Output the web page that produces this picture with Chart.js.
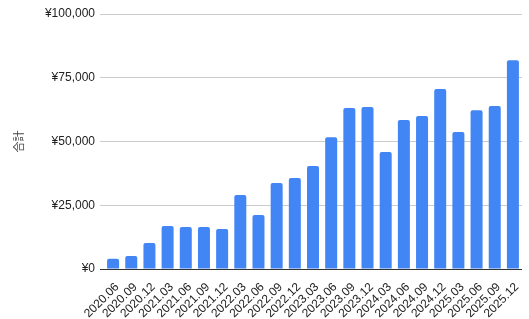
<!DOCTYPE html>
<html>
<head>
<meta charset="utf-8">
<script src="https://cdn.jsdelivr.net/npm/chart.js@4.4.1/dist/chart.umd.min.js"></script>
<style>
  html, body { margin: 0; padding: 0; background: #fff; }
  #wrap { width: 529px; height: 319px; }
</style>
</head>
<body>
<div id="wrap"><canvas id="totalChart" width="529" height="319"></canvas></div>
<script>
// Quarterly totals
const quarters = ['2020.06', '2020.09', '2020.12', '2021.03', '2021.06', '2021.09', '2021.12',
    '2022.03', '2022.06', '2022.09', '2022.12', '2023.03', '2023.06', '2023.09', '2023.12',
    '2024.03', '2024.06', '2024.09', '2024.12', '2025.03', '2025.06', '2025.09', '2025.12'];
const totals = [4000, 5100, 10200, 16900, 16500, 16500, 15700,
    29000, 21200, 33700, 35700, 40400, 51700, 63100, 63500,
    45900, 58400, 60000, 70600, 53700, 62300, 63900, 81900];
const yTicks = [0, 25000, 50000, 75000, 100000];

const yen = v => '¥' + v.toLocaleString('en-US');

const ctx = document.getElementById('totalChart').getContext('2d');
const totalChart = new Chart(ctx, {
    type: 'bar',
    data: {
        labels: quarters,
        datasets: [{
            label: '合計',
            data: totals,
            backgroundColor: '#4285F4',
            borderRadius: 2,
            borderSkipped: 'bottom',
            barPercentage: 0.66,
            categoryPercentage: 1
        }]
    },
    options: {
        responsive: false,
        animation: false,
        layout: { padding: { top: 14, right: 7, left: 0, bottom: 0 } },
        plugins: {
            legend: { display: false },
            tooltip: { enabled: false }
        },
        scales: {
            x: {
                offset: true,
                grid: { display: false },
                border: { display: false },
                ticks: {
                    color: '#222',
                    font: { family: 'Liberation Sans, Arial', size: 12 },
                    minRotation: 45,
                    maxRotation: 45,
                    autoSkip: false,
                    padding: 3,
                    labelOffset: 4
                },
                afterFit: s => { s.height = 50; }
            },
            y: {
                min: 0,
                max: 100000,
                afterBuildTicks: s => { s.ticks = yTicks.map(v => ({ value: v })); },
                grid: {
                    color: c => (c.tick && c.tick.value === 0) ? '#333' : '#ccc',
                    tickLength: 4
                },
                border: { display: false },
                ticks: {
                    color: '#222',
                    font: { family: 'Liberation Sans, Arial', size: 12 },
                    padding: 5,
                    callback: v => yen(v)
                },
                title: {
                    display: true,
                    text: '合計',
                    color: '#444',
                    font: { family: 'Noto Sans CJK JP', size: 11 },
                    padding: { top: 12, bottom: 0 }
                },
                afterFit: s => { s.width = 104; }
            }
        }
    }
});
</script>
</body>
</html>
